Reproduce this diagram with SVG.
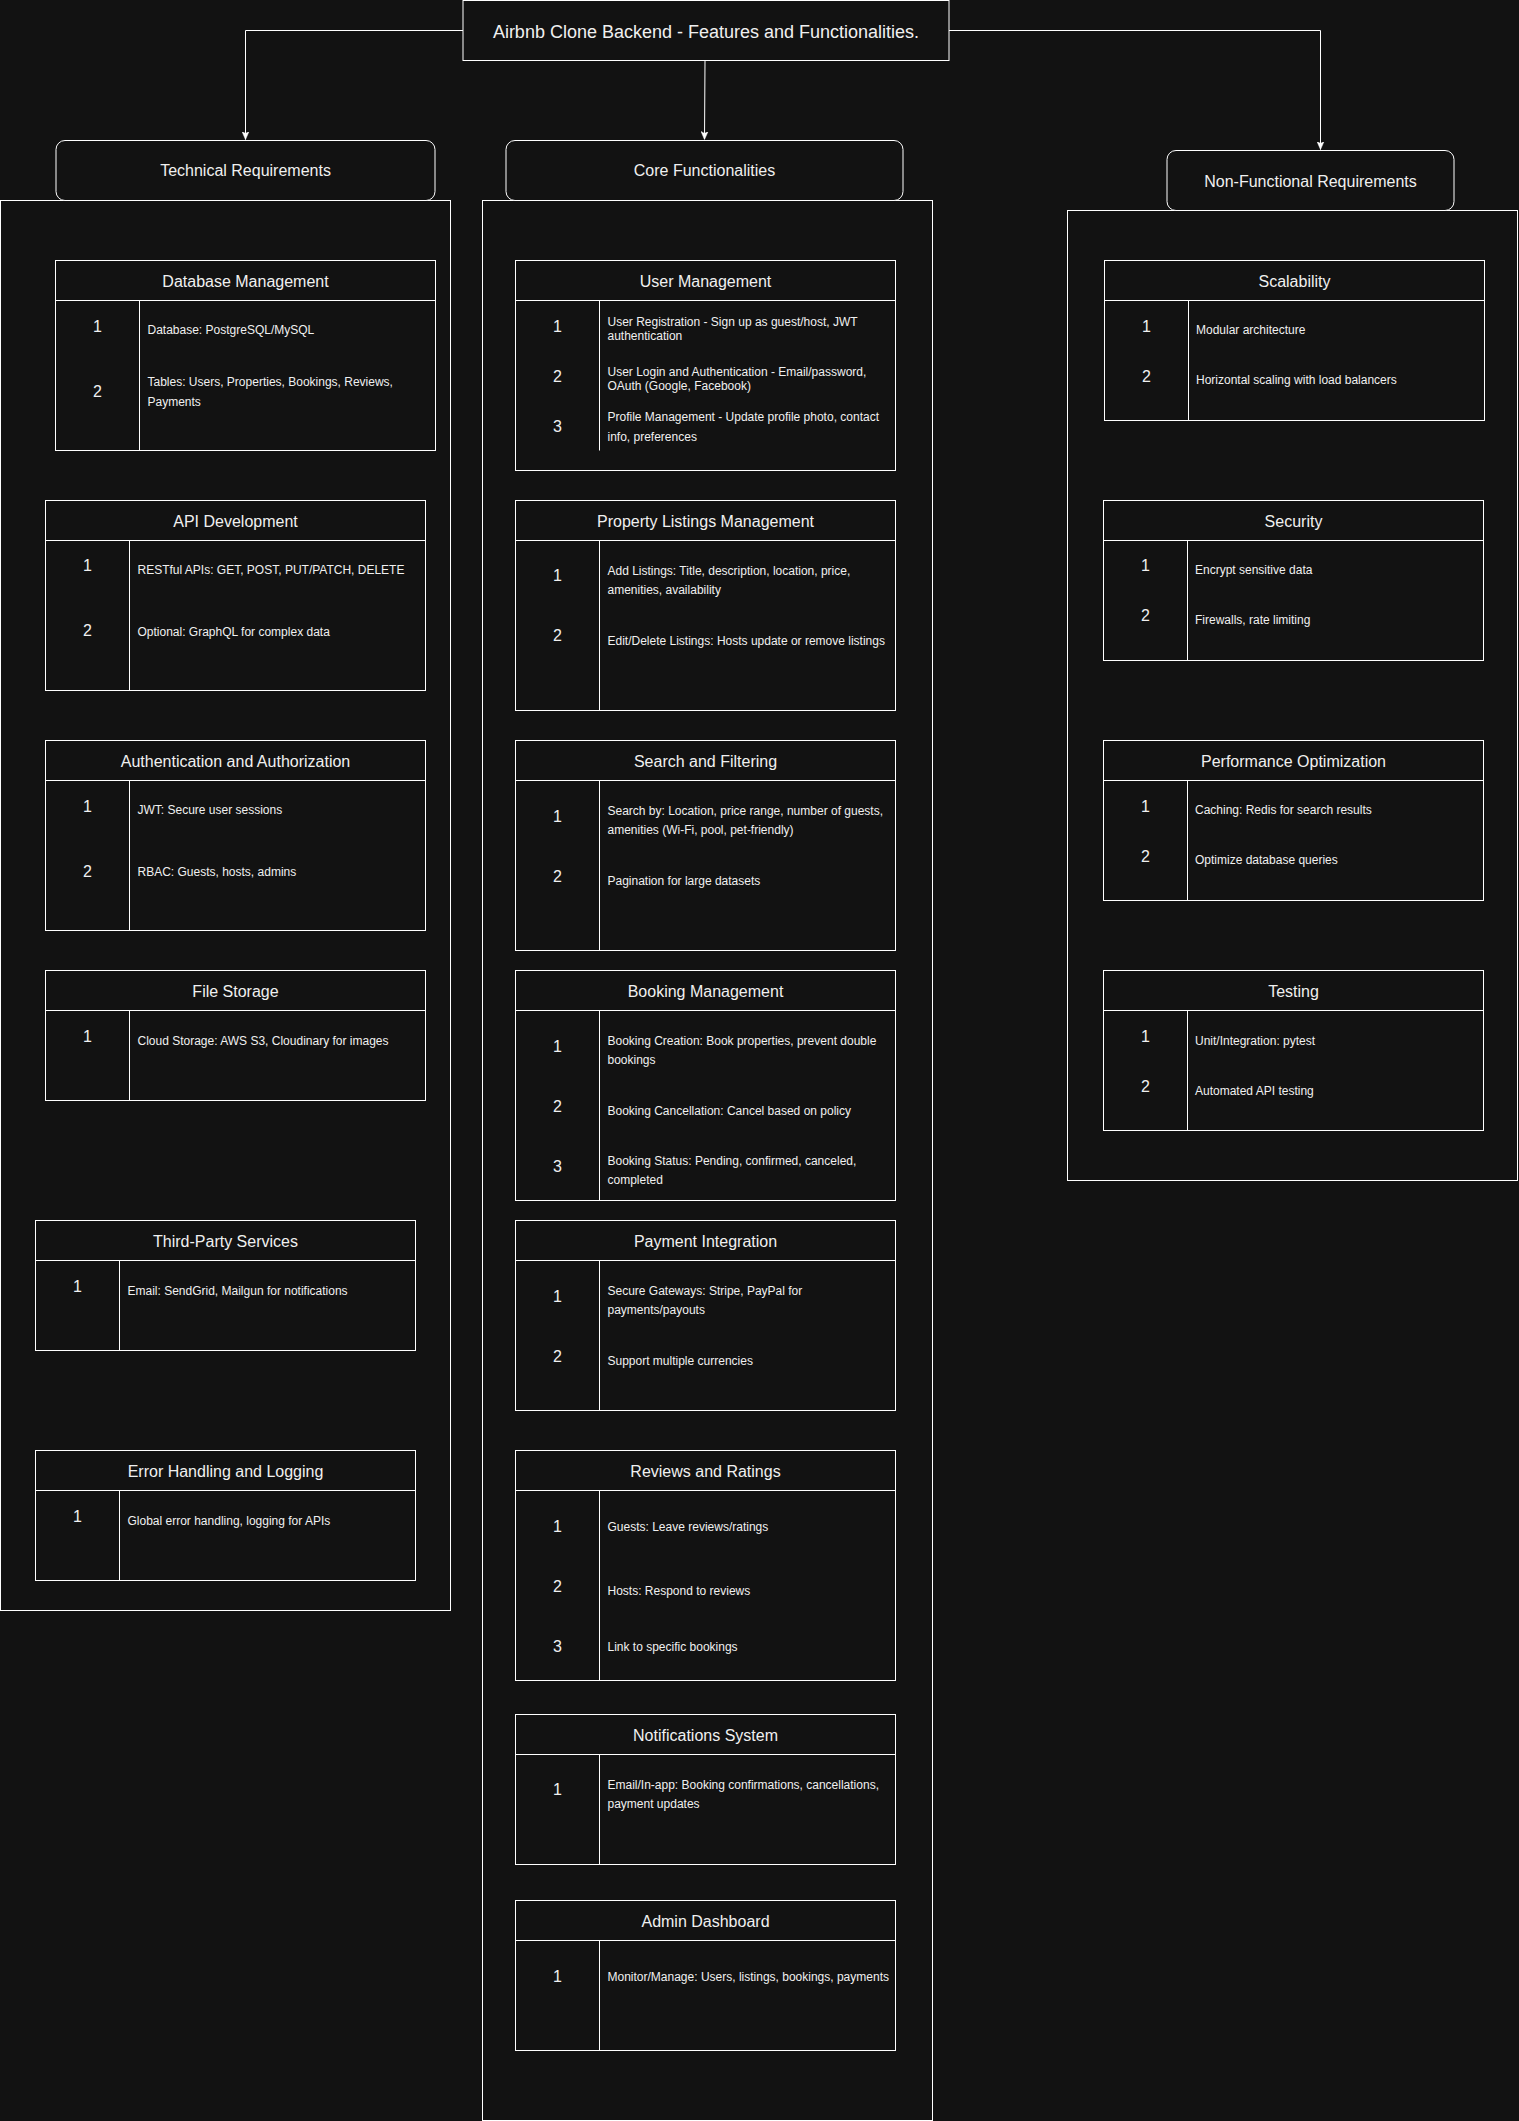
<svg xmlns="http://www.w3.org/2000/svg" width="1519" height="2121" viewBox="0 0 1519 2121">
<defs>
<style>
.box{fill:#121212;stroke:#ffffff;stroke-width:1}
.ln{stroke:#ffffff;stroke-width:1;fill:none}
.edge{stroke:#ffffff;stroke-width:1;fill:none}
text{font-family:"Liberation Sans",Arial,Helvetica,sans-serif;fill:#f0f0f0}
.title{font-size:18px;text-anchor:middle}
.lbl{font-size:16px;text-anchor:middle}
.num{font-size:16px;text-anchor:middle}
.txt{font-size:12px}
</style>
<marker id="arr" viewBox="0 0 8 8" markerWidth="8" markerHeight="8" refX="8" refY="4" orient="auto" markerUnits="userSpaceOnUse">
<path d="M0,0.5 L8,4 L0,7.5 L2,4 Z" fill="#ffffff" stroke="#ffffff" stroke-width="0.5"/>
</marker>
</defs>
<rect x="0" y="0" width="1519" height="2121" fill="#121212"/>

<g id="containers">
<rect id="tech-container" class="box" x="0.5" y="200.5" width="450" height="1410"/>
<rect id="core-container" class="box" x="482.5" y="200.5" width="450" height="1920"/>
<rect id="nonfunc-container" class="box" x="1067.5" y="210.5" width="450" height="970"/>
</g>

<g id="connectors">
<path class="edge" d="M463,30.5 H245.5 V139.5" marker-end="url(#arr)"/>
<path class="edge" d="M705,61 L704.5,139.5" marker-end="url(#arr)"/>
<path class="edge" d="M949,30.5 H1320.5 V149.5" marker-end="url(#arr)"/>
</g>

<g id="title">
<rect class="box" x="463" y="0.5" width="486" height="60"/>
<text class="title" x="706" y="37.5">Airbnb Clone Backend - Features and Functionalities.</text>
</g>

<g id="technical-requirements">
<rect class="box" x="56" y="140.5" width="379" height="60" rx="9" ry="9"/>
<text class="lbl" x="245.5" y="176.3">Technical Requirements</text>
</g>
<g id="core-functionalities">
<rect class="box" x="506" y="140.5" width="397" height="60" rx="9" ry="9"/>
<text class="lbl" x="704.5" y="176.3">Core Functionalities</text>
</g>
<g id="non-functional-requirements">
<rect class="box" x="1167" y="150.5" width="287" height="60" rx="9" ry="9"/>
<text class="lbl" x="1310.5" y="186.6">Non-Functional Requirements</text>
</g>

<!-- Left column -->
<g id="database-management">
<rect class="box" x="55.5" y="260.5" width="380" height="190"/>
<line class="ln" x1="55.5" y1="300.5" x2="435.5" y2="300.5"/>
<line class="ln" x1="139.5" y1="300.5" x2="139.5" y2="450.5"/>
<text class="lbl" x="245.5" y="286.8">Database Management</text>
<text class="num" x="97.5" y="331.5">1</text>
<text class="num" x="97.5" y="396.5">2</text>
<text class="txt" x="147.5" y="334.2">Database: PostgreSQL/MySQL</text>
<text class="txt" x="147.5" y="386">Tables: Users, Properties, Bookings, Reviews,</text>
<text class="txt" x="147.5" y="406">Payments</text>
</g>

<g id="api-development">
<rect class="box" x="45.5" y="500.5" width="380" height="190"/>
<line class="ln" x1="45.5" y1="540.5" x2="425.5" y2="540.5"/>
<line class="ln" x1="129.5" y1="540.5" x2="129.5" y2="690.5"/>
<text class="lbl" x="235.5" y="526.8">API Development</text>
<text class="num" x="87.5" y="570.8">1</text>
<text class="num" x="87.5" y="635.8">2</text>
<text class="txt" x="137.5" y="573.8">RESTful APIs: GET, POST, PUT/PATCH, DELETE</text>
<text class="txt" x="137.5" y="636.2">Optional: GraphQL for complex data</text>
</g>

<g id="authentication-authorization">
<rect class="box" x="45.5" y="740.5" width="380" height="190"/>
<line class="ln" x1="45.5" y1="780.5" x2="425.5" y2="780.5"/>
<line class="ln" x1="129.5" y1="780.5" x2="129.5" y2="930.5"/>
<text class="lbl" x="235.5" y="766.8">Authentication and Authorization</text>
<text class="num" x="87.5" y="811.5">1</text>
<text class="num" x="87.5" y="876.5">2</text>
<text class="txt" x="137.5" y="814.2">JWT: Secure user sessions</text>
<text class="txt" x="137.5" y="876.2">RBAC: Guests, hosts, admins</text>
</g>

<g id="file-storage">
<rect class="box" x="45.5" y="970.5" width="380" height="130"/>
<line class="ln" x1="45.5" y1="1010.5" x2="425.5" y2="1010.5"/>
<line class="ln" x1="129.5" y1="1010.5" x2="129.5" y2="1100.5"/>
<text class="lbl" x="235.5" y="996.8">File Storage</text>
<text class="num" x="87.5" y="1041.5">1</text>
<text class="txt" x="137.5" y="1044.5">Cloud Storage: AWS S3, Cloudinary for images</text>
</g>

<g id="third-party-services">
<rect class="box" x="35.5" y="1220.5" width="380" height="130"/>
<line class="ln" x1="35.5" y1="1260.5" x2="415.5" y2="1260.5"/>
<line class="ln" x1="119.5" y1="1260.5" x2="119.5" y2="1350.5"/>
<text class="lbl" x="225.5" y="1246.8">Third-Party Services</text>
<text class="num" x="77.5" y="1291.5">1</text>
<text class="txt" x="127.5" y="1294.5">Email: SendGrid, Mailgun for notifications</text>
</g>

<g id="error-handling-logging">
<rect class="box" x="35.5" y="1450.5" width="380" height="130"/>
<line class="ln" x1="35.5" y1="1490.5" x2="415.5" y2="1490.5"/>
<line class="ln" x1="119.5" y1="1490.5" x2="119.5" y2="1580.5"/>
<text class="lbl" x="225.5" y="1476.8">Error Handling and Logging</text>
<text class="num" x="77.5" y="1521.5">1</text>
<text class="txt" x="127.5" y="1524.5">Global error handling, logging for APIs</text>
</g>

<!-- Middle column -->
<g id="user-management">
<rect class="box" x="515.5" y="260.5" width="380" height="210"/>
<line class="ln" x1="515.5" y1="300.5" x2="895.5" y2="300.5"/>
<line class="ln" x1="599.5" y1="300.5" x2="599.5" y2="450.5"/>
<text class="lbl" x="705.5" y="286.8">User Management</text>
<text class="num" x="557.5" y="331.5">1</text>
<text class="num" x="557.5" y="381.5">2</text>
<text class="num" x="557.5" y="431.5">3</text>
<text class="txt" x="607.5" y="326.2">User Registration - Sign up as guest/host, JWT</text>
<text class="txt" x="607.5" y="340.2">authentication</text>
<text class="txt" x="607.5" y="376.2">User Login and Authentication - Email/password,</text>
<text class="txt" x="607.5" y="390.2">OAuth (Google, Facebook)</text>
<text class="txt" x="607.5" y="421.2">Profile Management - Update profile photo, contact</text>
<text class="txt" x="607.5" y="441.2">info, preferences</text>
</g>

<g id="property-listings-management">
<rect class="box" x="515.5" y="500.5" width="380" height="210"/>
<line class="ln" x1="515.5" y1="540.5" x2="895.5" y2="540.5"/>
<line class="ln" x1="599.5" y1="540.5" x2="599.5" y2="710.5"/>
<text class="lbl" x="705.5" y="526.8">Property Listings Management</text>
<text class="num" x="557.5" y="580.8">1</text>
<text class="num" x="557.5" y="640.8">2</text>
<text class="txt" x="607.5" y="574.5">Add Listings: Title, description, location, price,</text>
<text class="txt" x="607.5" y="593.5">amenities, availability</text>
<text class="txt" x="607.5" y="644.5">Edit/Delete Listings: Hosts update or remove listings</text>
</g>

<g id="search-filtering">
<rect class="box" x="515.5" y="740.5" width="380" height="210"/>
<line class="ln" x1="515.5" y1="780.5" x2="895.5" y2="780.5"/>
<line class="ln" x1="599.5" y1="780.5" x2="599.5" y2="950.5"/>
<text class="lbl" x="705.5" y="766.8">Search and Filtering</text>
<text class="num" x="557.5" y="821.5">1</text>
<text class="num" x="557.5" y="881.5">2</text>
<text class="txt" x="607.5" y="814.5">Search by: Location, price range, number of guests,</text>
<text class="txt" x="607.5" y="833.5">amenities (Wi-Fi, pool, pet-friendly)</text>
<text class="txt" x="607.5" y="884.5">Pagination for large datasets</text>
</g>

<g id="booking-management">
<rect class="box" x="515.5" y="970.5" width="380" height="230"/>
<line class="ln" x1="515.5" y1="1010.5" x2="895.5" y2="1010.5"/>
<line class="ln" x1="599.5" y1="1010.5" x2="599.5" y2="1200.5"/>
<text class="lbl" x="705.5" y="996.8">Booking Management</text>
<text class="num" x="557.5" y="1051.5">1</text>
<text class="num" x="557.5" y="1111.5">2</text>
<text class="num" x="557.5" y="1171.5">3</text>
<text class="txt" x="607.5" y="1044.5">Booking Creation: Book properties, prevent double</text>
<text class="txt" x="607.5" y="1063.5">bookings</text>
<text class="txt" x="607.5" y="1114.5">Booking Cancellation: Cancel based on policy</text>
<text class="txt" x="607.5" y="1164.5">Booking Status: Pending, confirmed, canceled,</text>
<text class="txt" x="607.5" y="1183.5">completed</text>
</g>

<g id="payment-integration">
<rect class="box" x="515.5" y="1220.5" width="380" height="190"/>
<line class="ln" x1="515.5" y1="1260.5" x2="895.5" y2="1260.5"/>
<line class="ln" x1="599.5" y1="1260.5" x2="599.5" y2="1410.5"/>
<text class="lbl" x="705.5" y="1246.8">Payment Integration</text>
<text class="num" x="557.5" y="1301.5">1</text>
<text class="num" x="557.5" y="1361.5">2</text>
<text class="txt" x="607.5" y="1294.5">Secure Gateways: Stripe, PayPal for</text>
<text class="txt" x="607.5" y="1313.5">payments/payouts</text>
<text class="txt" x="607.5" y="1364.5">Support multiple currencies</text>
</g>

<g id="reviews-ratings">
<rect class="box" x="515.5" y="1450.5" width="380" height="230"/>
<line class="ln" x1="515.5" y1="1490.5" x2="895.5" y2="1490.5"/>
<line class="ln" x1="599.5" y1="1490.5" x2="599.5" y2="1680.5"/>
<text class="lbl" x="705.5" y="1476.8">Reviews and Ratings</text>
<text class="num" x="557.5" y="1531.5">1</text>
<text class="num" x="557.5" y="1591.5">2</text>
<text class="num" x="557.5" y="1651.5">3</text>
<text class="txt" x="607.5" y="1531.2">Guests: Leave reviews/ratings</text>
<text class="txt" x="607.5" y="1594.5">Hosts: Respond to reviews</text>
<text class="txt" x="607.5" y="1651.2">Link to specific bookings</text>
</g>

<g id="notifications-system">
<rect class="box" x="515.5" y="1714.5" width="380" height="150"/>
<line class="ln" x1="515.5" y1="1754.5" x2="895.5" y2="1754.5"/>
<line class="ln" x1="599.5" y1="1754.5" x2="599.5" y2="1864.5"/>
<text class="lbl" x="705.5" y="1740.8">Notifications System</text>
<text class="num" x="557.5" y="1794.8">1</text>
<text class="txt" x="607.5" y="1788.5">Email/In-app: Booking confirmations, cancellations,</text>
<text class="txt" x="607.5" y="1807.5">payment updates</text>
</g>

<g id="admin-dashboard">
<rect class="box" x="515.5" y="1900.5" width="380" height="150"/>
<line class="ln" x1="515.5" y1="1940.5" x2="895.5" y2="1940.5"/>
<line class="ln" x1="599.5" y1="1940.5" x2="599.5" y2="2050.5"/>
<text class="lbl" x="705.5" y="1926.8">Admin Dashboard</text>
<text class="num" x="557.5" y="1981.5">1</text>
<text class="txt" x="607.5" y="1981.2">Monitor/Manage: Users, listings, bookings, payments</text>
</g>

<!-- Right column -->
<g id="scalability">
<rect class="box" x="1104.5" y="260.5" width="380" height="160"/>
<line class="ln" x1="1104.5" y1="300.5" x2="1484.5" y2="300.5"/>
<line class="ln" x1="1188.5" y1="300.5" x2="1188.5" y2="420.5"/>
<text class="lbl" x="1294.5" y="286.8">Scalability</text>
<text class="num" x="1146.5" y="331.5">1</text>
<text class="num" x="1146.5" y="381.5">2</text>
<text class="txt" x="1196" y="334.2">Modular architecture</text>
<text class="txt" x="1196" y="384.2">Horizontal scaling with load balancers</text>
</g>

<g id="security">
<rect class="box" x="1103.5" y="500.5" width="380" height="160"/>
<line class="ln" x1="1103.5" y1="540.5" x2="1483.5" y2="540.5"/>
<line class="ln" x1="1187.5" y1="540.5" x2="1187.5" y2="660.5"/>
<text class="lbl" x="1293.5" y="526.8">Security</text>
<text class="num" x="1145.5" y="570.8">1</text>
<text class="num" x="1145.5" y="620.8">2</text>
<text class="txt" x="1195" y="573.8">Encrypt sensitive data</text>
<text class="txt" x="1195" y="623.8">Firewalls, rate limiting</text>
</g>

<g id="performance-optimization">
<rect class="box" x="1103.5" y="740.5" width="380" height="160"/>
<line class="ln" x1="1103.5" y1="780.5" x2="1483.5" y2="780.5"/>
<line class="ln" x1="1187.5" y1="780.5" x2="1187.5" y2="900.5"/>
<text class="lbl" x="1293.5" y="766.8">Performance Optimization</text>
<text class="num" x="1145.5" y="811.5">1</text>
<text class="num" x="1145.5" y="861.5">2</text>
<text class="txt" x="1195" y="814.2">Caching: Redis for search results</text>
<text class="txt" x="1195" y="864.2">Optimize database queries</text>
</g>

<g id="testing">
<rect class="box" x="1103.5" y="970.5" width="380" height="160"/>
<line class="ln" x1="1103.5" y1="1010.5" x2="1483.5" y2="1010.5"/>
<line class="ln" x1="1187.5" y1="1010.5" x2="1187.5" y2="1130.5"/>
<text class="lbl" x="1293.5" y="996.8">Testing</text>
<text class="num" x="1145.5" y="1041.5">1</text>
<text class="num" x="1145.5" y="1091.5">2</text>
<text class="txt" x="1195" y="1044.5">Unit/Integration: pytest</text>
<text class="txt" x="1195" y="1094.5">Automated API testing</text>
</g>
</svg>
